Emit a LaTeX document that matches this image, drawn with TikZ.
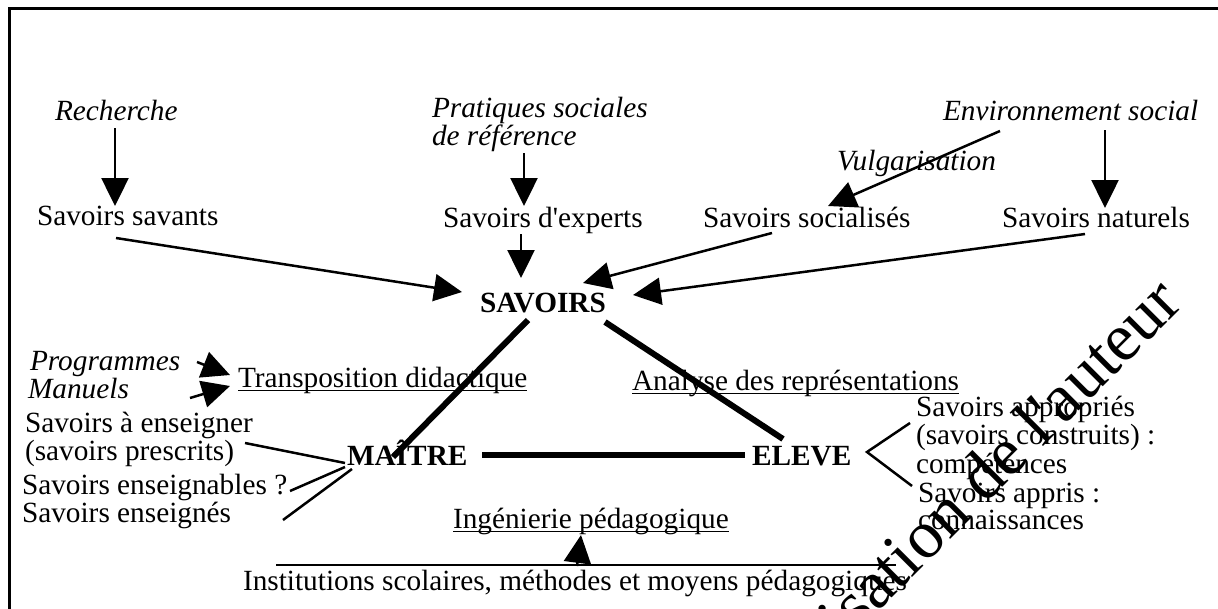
\documentclass[tikz,border=0pt]{standalone}
\usepackage{fontspec}
\newfontfamily\tnr{Liberation Serif}
\usetikzlibrary{arrows.meta}
\newcommand\mlin[1]{\begin{tabular}[t]{@{}l@{}}#1\end{tabular}}
\tikzset{
  txt/.style={inner sep=0pt, outer sep=0pt, anchor=base west, font=\tnr\fontsize{29.3}{27.5}\selectfont},
  itx/.style={txt, font=\tnr\fontsize{29.3}{27.5}\selectfont\itshape},
  bdx/.style={txt, font=\tnr\fontsize{29.3}{27.5}\selectfont\bfseries},
  arr/.style={line width=2.5pt, -{Triangle[length=28pt,width=27pt]}},
  lnk/.style={line width=2.5pt},
  heavy/.style={line width=6pt},
  ulin/.style={line width=1.5pt},
}
\begin{document}
\begin{tikzpicture}[x=1pt,y=-1pt]
\useasboundingbox (0,0) rectangle (1218,608);
\clip (0,0) rectangle (1218,608);
\draw[line width=3pt] (9,610) -- (9,8) -- (1220,8);

% top sources
\node[itx] (rech) at (55,120) {Recherche};
\node[itx] (prat) at (432,117) {\mlin{Pratiques sociales\\de référence}};
\node[itx] (env) at (943,120) {Environnement social};
\node[itx] (vulg) at (837,170) {Vulgarisation};

% savoirs row
\node[txt] (savants) at (37,225) {Savoirs savants};
\node[txt] (experts) at (443,227) {Savoirs d'experts};
\node[txt] (soc) at (703,227) {Savoirs socialisés};
\node[txt] (nat) at (1002,227) {Savoirs naturels};

% triangle
\node[bdx] (savoirs) at (480,312) {SAVOIRS};
\node[bdx] (maitre) at (347,465) {MAÎTRE};
\node[bdx] (eleve) at (752,465) {ELEVE};

% left side
\node[itx] (prog) at (30,370) {Programmes};
\node[itx] (manuels) at (28,398) {Manuels};
\node[txt] (transp) at (238,387) {Transposition didactique};
\node[txt] (analyse) at (632,390) {Analyse des représentations};
\node[txt] (enseigner) at (25,432) {\mlin{Savoirs à enseigner\\(savoirs prescrits)}};
\node[txt] (enseignables) at (22,494) {Savoirs enseignables ?};
\node[txt] (enseignes) at (22,522) {Savoirs enseignés};

% right side
\node[txt] (appropr) at (916,416) {\mlin{Savoirs appropriés\\(savoirs construits) :\\compétences}};
\node[txt] (appris) at (918,502) {\mlin{Savoirs appris :\\connaissances}};

% bottom
\node[txt] (ingen) at (453,528) {Ingénierie pédagogique};
\node[txt] (inst) at (243,590) {Institutions scolaires, méthodes et moyens pédagogiques};

% underlines
\draw[ulin] ([yshift=-3.5pt]transp.base west) -- ([yshift=-3.5pt]transp.base east);
\draw[ulin] ([yshift=-3.5pt]analyse.base west) -- ([yshift=-3.5pt]analyse.base east);
\draw[ulin] ([yshift=-3.5pt]ingen.base west) -- ([yshift=-3.5pt]ingen.base east);

% arrows from sources
\draw[arr] ([shift={(60,8)}]rech.base west) -- ([shift={(78,-19)}]savants.base west);
\draw[arr] ([shift={(92,36)}]prat.base west) -- ([shift={(81,-21)}]experts.base west);
\draw[arr] ([shift={(57,11)}]env.base west) -- ([shift={(125,-21)}]soc.base west);
\draw[arr] ([shift={(162,10)}]env.base west) -- ([shift={(103,-19)}]nat.base west);

% arrows to SAVOIRS
\draw[arr] ([shift={(79,13)}]savants.base west) -- ([shift={(-18,-20)}]savoirs.base west);
\draw[arr] ([shift={(78,7)}]experts.base west) -- ([shift={(41,-34)}]savoirs.base west);
\draw[arr] ([shift={(69,6)}]soc.base west) -- ([shift={(103,-29)}]savoirs.base west);
\draw[arr] ([shift={(83,7)}]nat.base west) -- ([shift={(153,-17)}]savoirs.base west);

% triangle edges
\draw[heavy] ([shift={(48,8)}]savoirs.base west) -- ([shift={(46,-8)}]maitre.base west);
\draw[heavy] ([shift={(125,10)}]savoirs.base west) -- ([shift={(31,-26)}]eleve.base west);
\draw[heavy] ([shift={(135,-10)}]maitre.base west) -- ([shift={(-7,-10)}]eleve.base west);

% programmes / manuels
\draw[arr] ([shift={(167,-8)}]prog.base west) -- ([shift={(-8,-12)}]transp.base west);
\draw[arr] ([shift={(162,0)}]manuels.base west) -- ([shift={(-8,-1)}]transp.base west);

% savoirs enseignes etc.
\draw[lnk] ([shift={(220,11)}]enseigner.base west) -- ([shift={(-2,-2)}]maitre.base west);
\draw[lnk] ([shift={(268,-3)}]enseignables.base west) -- ([shift={(-2,2)}]maitre.base west);
\draw[lnk] ([shift={(261,-2)}]enseignes.base west) -- ([shift={(5,4)}]maitre.base west);

% eleve branches
\draw[lnk] ([shift={(-6,7)}]appropr.base west) -- ([shift={(115,-13)}]eleve.base west) -- ([shift={(-6,-16)}]appris.base west);

% institutions
\draw[lnk] ([shift={(33,-25)}]inst.base west) -- ([shift={(653,-25)}]inst.base west);
\draw[arr] ([shift={(334,-24)}]inst.base west) -- ([shift={(128,7)}]ingen.base west);

% watermark
\node[rotate=45, anchor=base east, inner sep=0pt, font=\tnr\fontsize{68}{68}\selectfont] (wm) at (1185,305) {autorisation de l'auteur};
\end{tikzpicture}
\end{document}
